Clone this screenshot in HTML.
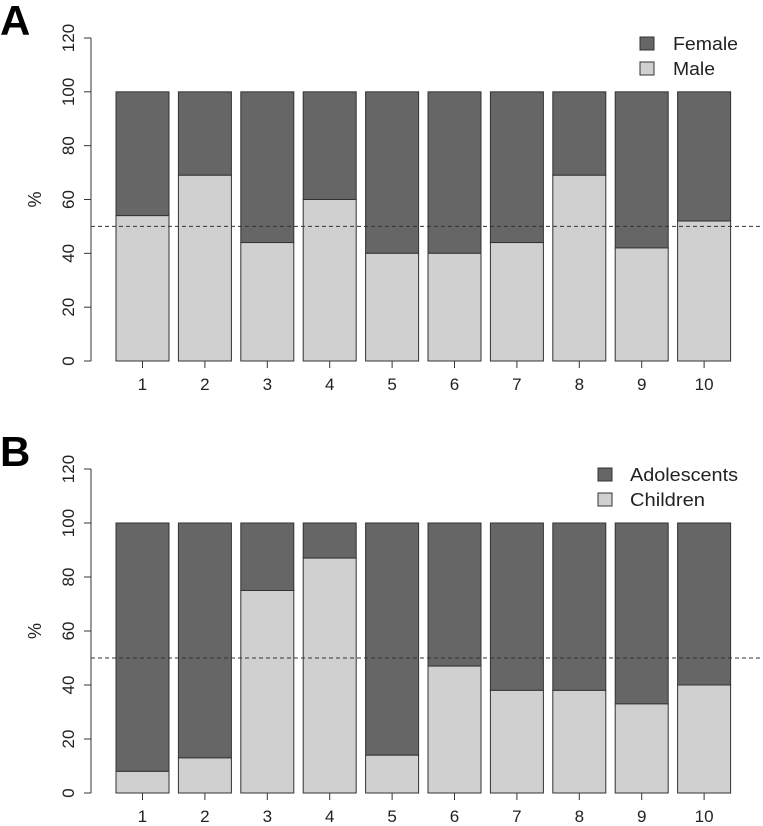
<!DOCTYPE html>
<html><head><meta charset="utf-8"><style>
body{margin:0;background:#fff}
svg{display:block;font-family:"Liberation Sans",sans-serif}
</style></head><body>
<svg id="c" width="763" height="826"></svg>
<script>
const categories=[1,2,3,4,5,6,7,8,9,10];
const maleValues=[54,69,44,60,40,40,44,69,42,52];
const childrenValues=[8,13,75,87,14,47,38,38,33,40];
const yTicks=[0,20,40,60,80,100,120];
const svg=document.getElementById('c');
const NS='http://www.w3.org/2000/svg';
function mk(t,a,p){const e=document.createElementNS(NS,t);for(const k in a)e.setAttribute(k,a[k]);(p||svg).appendChild(e);return e;}
function panel(letter,y0,y120,light,labels,widths,boxX,textX,key){
  const g=mk('g',{});
  
  
  const y=v=>y0+(y120-y0)*v/120;
  const x=i=>116+62.4*i;
  const L=mk('text',{x:0,y:y120-3,'font-size':42,'font-weight':'bold'},g);L.textContent=letter;
  
  
  mk('line',{x1:91,x2:91,y1:y(0),y2:y(120),stroke:'#333'},g);
  yTicks.forEach(t=>{
    mk('line',{x1:84,x2:91,y1:y(t),y2:y(t),stroke:'#333'},g);
    const tx=mk('text',{x:0,y:0,'font-size':17,fill:'#222','text-anchor':'middle',transform:`translate(74,${y(t)}) rotate(-90)`},g);tx.textContent=t;
    
    
  });
  const yl=mk('text',{x:0,y:0,'font-size':18,fill:'#222','text-anchor':'middle',transform:`translate(41,${y(60)}) rotate(-90)`},g);yl.textContent='%';
  
  
  categories.forEach((c,i)=>{
    const v=light[i];
    const d=mk('rect',{x:x(i),y:y(100),width:53,height:y(v)-y(100),fill:'#666',stroke:'#333'},g);
    
    
    const l=mk('rect',{x:x(i),y:y(v),width:53,height:y(0)-y(v),fill:'#d0d0d0',stroke:'#333'},g);
    
    
    mk('line',{x1:x(i)+26.5,x2:x(i)+26.5,y1:y(0),y2:y(0)+7,stroke:'#333'},g);
    const t=mk('text',{x:x(i)+26.5,y:y(0)+29,'font-size':17,fill:'#222','text-anchor':'middle'},g);t.textContent=c;
    
    
  });
  const dl=mk('line',{x1:91,x2:763,y1:y(50),y2:y(50),stroke:'#333','stroke-dasharray':'4,3'},g);
  
  
  [['#666',labels[0]],['#d0d0d0',labels[1]]].forEach((e,j)=>{
    const ly=y120-1+j*25;
    mk('rect',{x:boxX,y:ly,width:14,height:13,fill:e[0],stroke:'#333'},g);
    const t=mk('text',{x:textX,y:ly+13,'font-size':18,fill:'#222',textLength:widths[j],lengthAdjust:'spacingAndGlyphs'},g);t.textContent=e[1];
    
    
  });
}
panel('A',361,38,maleValues,['Female','Male'],[65,42],640,673,'a');
panel('B',793,469,childrenValues,['Adolescents','Children'],[108,75],598,630,'b');
</script>
</body></html>
